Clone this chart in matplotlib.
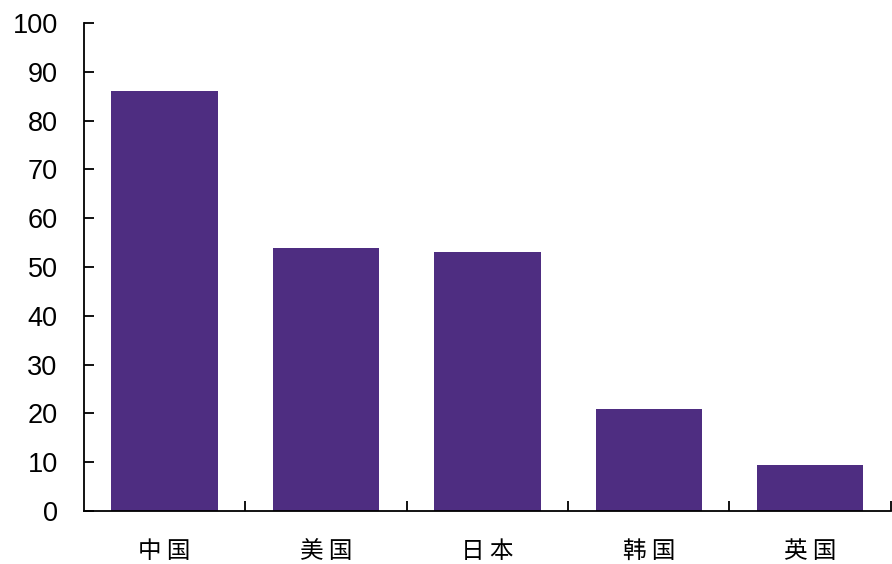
import matplotlib
matplotlib.use("Agg")
import matplotlib.pyplot as plt
from matplotlib.ticker import FixedLocator, NullFormatter

plt.rcParams['font.family'] = ['Noto Sans CJK SC', 'DejaVu Sans']

countries = ['中国', '美国', '日本', '韩国', '英国']
values = [86, 54, 53, 21, 9.4]
y_ticks = [0, 10, 20, 30, 40, 50, 60, 70, 80, 90, 100]

bar_color = '#4E2D81'

fig = plt.figure(figsize=(8.92, 5.64), dpi=100)
ax = fig.add_axes([0.0942, 0.094, 0.9045, 0.865])

x = range(len(countries))
ax.bar(x, values, width=0.66, color=bar_color, zorder=2)

ax.set_xlim(-0.5, len(countries) - 0.5)
ax.set_ylim(0, 100)

for side in ('top', 'right'):
    ax.spines[side].set_visible(False)
for side in ('left', 'bottom'):
    ax.spines[side].set_linewidth(1.3)
    ax.spines[side].set_color('black')

ax.set_yticks(y_ticks)
ax.set_yticklabels([str(t) for t in y_ticks], fontfamily='Liberation Sans', fontsize=19.5)
ax.tick_params(axis='y', direction='in', length=7, width=1.3, pad=19)

# category labels centred under bars, tick marks on category boundaries
ax.set_xticks(list(x))
ax.set_xticklabels([' '.join(c) for c in countries], fontsize=17)
ax.tick_params(axis='x', which='major', length=0, pad=21)
ax.xaxis.set_minor_locator(FixedLocator([i + 0.5 for i in x]))
ax.xaxis.set_minor_formatter(NullFormatter())
ax.tick_params(axis='x', which='minor', direction='in', length=7, width=1.3)

fig.savefig('out.png', dpi=100)
